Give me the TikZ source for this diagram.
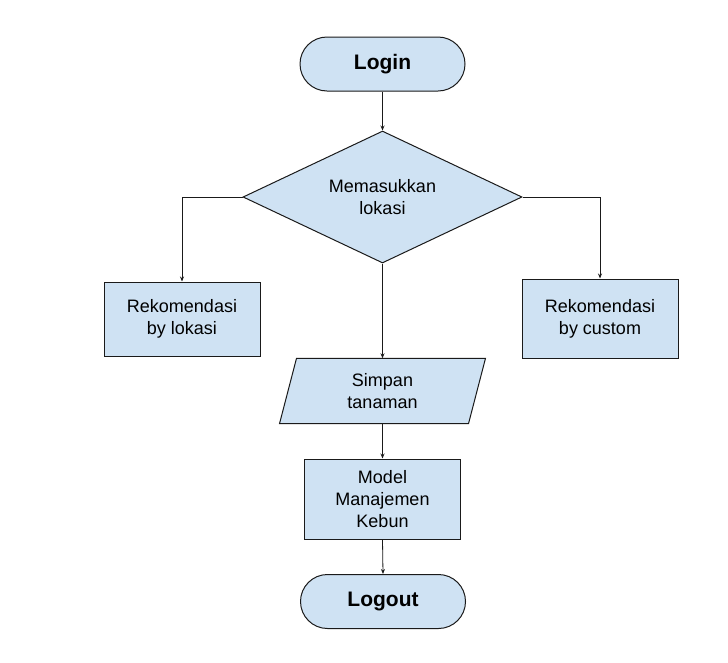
\documentclass[tikz,border=0pt]{standalone}
\usepackage{fontspec}
\setmainfont{Liberation Sans}
\usetikzlibrary{shapes.geometric,arrows.meta}
\definecolor{boxfill}{HTML}{CFE2F3}
\definecolor{edge}{HTML}{1A1A1A}
\tikzset{
  base/.style={draw=edge, fill=boxfill, line width=1pt, align=center, inner sep=0pt,
    font=\fontsize{18}{22}\selectfont},
  terminal/.style={base, rounded corners=27pt, minimum width=165pt, minimum height=54pt,
    font=\fontsize{21}{24}\selectfont\bfseries},
  decision/.style={base, diamond, aspect=2.1, minimum width=279pt, minimum height=132pt},
  process/.style={base, rectangle, minimum width=156pt},
  conn/.style={draw=edge, line width=0.8pt, -{Stealth[length=5pt,width=4pt]}}
}
\begin{document}
\begin{tikzpicture}[x=1pt,y=-1pt]
\useasboundingbox (0,0) rectangle (728,662);
\fill[white] (0,0) rectangle (728,662);
\node[terminal] (login) at (382.5,64) {Login};
\node[decision] (dec) at (382.5,197) {Memasukkan\\lokasi};
\node[process, minimum height=74pt] (lok) at (182,319) {Rekomendasi\\by lokasi};
\node[process, minimum height=79pt] (cus) at (600,318.5) {Rekomendasi\\by custom};
% parallelogram
\node[inner sep=0pt, minimum width=190pt, minimum height=65pt, align=center,
  font=\fontsize{18}{22}\selectfont] (sim) at (382.5,391) {\phantom{Simpan}};
\draw[draw=edge, fill=boxfill, line width=1pt]
  ([xshift=-86pt]sim.north) -- ([xshift=103pt]sim.north) --
  ([xshift=86pt]sim.south) -- ([xshift=-103pt]sim.south) -- cycle;
\node[font=\fontsize{18}{22}\selectfont, align=center] at (sim) {Simpan\\tanaman};
\node[process, minimum height=80pt] (mod) at (382.5,499) {Model\\Manajemen\\Kebun};
\node[terminal] (logout) at (383,601.5) {Logout};
\draw[conn] (login.south) -- (dec.north);
\draw[conn] (dec.west) -| (lok.north);
\draw[conn] (dec.east) -| (cus.north);
\draw[conn] (dec.south) -- (sim.north);
\draw[conn] (sim.south) -- (mod.north);
\draw[conn] (mod.south) -- (logout.north);
\end{tikzpicture}
\end{document}
